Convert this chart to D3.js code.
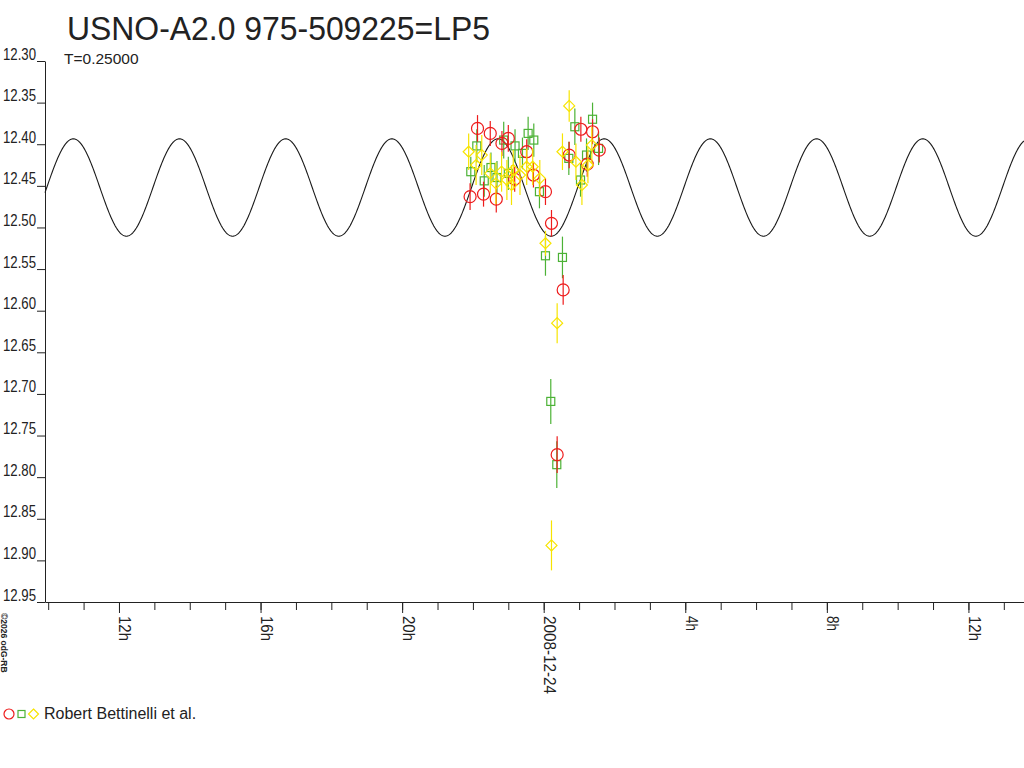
<!DOCTYPE html>
<html>
<head>
<meta charset="utf-8">
<script src="https://cdn.jsdelivr.net/npm/d3@7"></script>
<style>
  body { margin: 0; background: #fff; }
  text { font-family: "Liberation Sans", Arial, sans-serif; fill: #222; }
</style>
</head>
<body>
<svg width="1024" height="768"></svg>
<script>
// observations, time in hours from 2008-12-24 00:00 UT
const redHours = [-2.08, -1.87, -1.70, -1.51, -1.34, -1.18, -1.00, -0.82, -0.48, -0.29, 0.05, 0.22, 0.38, 0.55, 0.72, 1.05, 1.23, 1.38, 1.57];
const redMag   = [12.463, 12.381, 12.460, 12.387, 12.466, 12.399, 12.393, 12.442, 12.409, 12.437, 12.457, 12.495, 12.773, 12.575, 12.413, 12.382, 12.424, 12.385, 12.407];
const redErr   = [0.016, 0.016, 0.015, 0.015, 0.016, 0.015, 0.016, 0.015, 0.015, 0.015, 0.016, 0.016, 0.022, 0.018, 0.016, 0.015, 0.015, 0.015, 0.015];

const greenHours = [-2.06, -1.89, -1.68, -1.49, -1.32, -1.13, -1.00, -0.81, -0.60, -0.44, -0.28, -0.12, 0.05, 0.20, 0.37, 0.53, 0.71, 0.88, 1.04, 1.21, 1.38, 1.55];
const greenMag   = [12.433, 12.402, 12.444, 12.428, 12.440, 12.395, 12.435, 12.402, 12.411, 12.387, 12.395, 12.457, 12.534, 12.709, 12.785, 12.536, 12.417, 12.379, 12.443, 12.413, 12.370, 12.405];
const greenErr   = [0.018, 0.020, 0.019, 0.018, 0.020, 0.022, 0.020, 0.020, 0.019, 0.020, 0.020, 0.020, 0.024, 0.027, 0.028, 0.025, 0.020, 0.022, 0.020, 0.020, 0.020, 0.020];

const yellowHours = [-2.12, -1.91, -1.75, -1.51, -1.35, -1.19, -1.04, -0.91, -0.86, -0.67, -0.48, -0.31, -0.11, 0.05, 0.22, 0.38, 0.53, 0.72, 0.91, 1.08, 1.25, 1.36];
const yellowMag   = [12.409, 12.425, 12.413, 12.435, 12.447, 12.433, 12.443, 12.449, 12.431, 12.437, 12.427, 12.427, 12.441, 12.519, 12.882, 12.615, 12.409, 12.354, 12.421, 12.449, 12.425, 12.401];
const yellowErr   = [0.022, 0.024, 0.024, 0.024, 0.025, 0.024, 0.024, 0.024, 0.024, 0.024, 0.022, 0.022, 0.022, 0.015, 0.030, 0.024, 0.022, 0.019, 0.022, 0.024, 0.022, 0.022];

// model light curve (double wave, T = 0.25 d)
const periodDays = 0.25;
const modelMean = 12.452;
const modelAmp = 0.0585;
const modelFaintHour = 0.21;

const magTicks = [12.30, 12.35, 12.40, 12.45, 12.50, 12.55, 12.60, 12.65, 12.70, 12.75, 12.80, 12.85, 12.90, 12.95];

const svg = d3.select('svg');
const day0 = Date.UTC(2008, 11, 24);
const toDate = h => new Date(day0 + h * 3600e3);

const x = d3.scaleUtc().domain([toDate(-14.09), toDate(13.57)]).range([45, 1024]);
const y = d3.scaleLinear().domain([12.30, 12.95]).range([61, 602]);

// title
svg.append('text').attr('x', 67).attr('y', 40)
    .attr('font-size', 34).attr('textLength', 423).attr('lengthAdjust', 'spacingAndGlyphs')
    .text('USNO-A2.0 975-509225=LP5');
svg.append('text').attr('x', 64).attr('y', 64).attr('font-size', 15.5).text('T=0.25000');

// y axis
const yAxis = svg.append('g').attr('transform', 'translate(45,0)')
    .call(d3.axisLeft(y).tickValues(magTicks).tickSize(8).tickSizeOuter(0).tickFormat(d3.format('.2f')));
yAxis.selectAll('text')
    .attr('x', -9).attr('y', -2).attr('dy', 0)
    .attr('font-size', 17).attr('textLength', 33).attr('lengthAdjust', 'spacingAndGlyphs')
    .style('fill', '#222');
yAxis.selectAll('path, line').attr('stroke', '#222');

// x axis: hourly minor ticks, 4-hourly labelled ticks
const xMinor = svg.append('g').attr('transform', 'translate(0,602)')
    .call(d3.axisBottom(x).ticks(d3.utcHour.every(1)).tickSize(8).tickSizeOuter(0).tickFormat(''));
xMinor.selectAll('path, line').attr('stroke', '#222');

const hourLabel = d => d.getUTCHours() === 0 ? d3.utcFormat('%Y-%m-%d')(d) : d.getUTCHours() + 'h';
const xMajor = svg.append('g').attr('transform', 'translate(0,602)')
    .call(d3.axisBottom(x).ticks(d3.utcHour.every(4)).tickSize(11).tickSizeOuter(0).tickFormat(hourLabel));
xMajor.select('.domain').remove();
xMajor.selectAll('line').attr('stroke', '#222');
xMajor.selectAll('text')
    .attr('transform', 'rotate(90)')
    .attr('x', 14).attr('y', 0).attr('dy', 0)
    .attr('text-anchor', 'start')
    .attr('font-size', 16)
    .attr('textLength', d => d.getUTCHours() === 0 ? 78 : (d.getUTCHours() >= 10 ? 25 : 15))
    .attr('lengthAdjust', 'spacingAndGlyphs')
    .style('fill', '#222');

// model curve
const [h0, h1] = x.domain().map(d => (d - day0) / 3600e3);
const curveHours = d3.range(h0, h1 + 0.01, 0.02);
const modelMag = h => modelMean + modelAmp * Math.cos(2 * Math.PI * 2 * (h - modelFaintHour) / (periodDays * 24));
svg.append('path')
    .datum(curveHours)
    .attr('fill', 'none').attr('stroke', '#1a1a1a').attr('stroke-width', 1.1)
    .attr('d', d3.line().x(h => x(toDate(h))).y(h => y(modelMag(h))));

// observations
const series = [
  { hours: greenHours, mag: greenMag, err: greenErr, color: '#4cb236', shape: 'square' },
  { hours: redHours, mag: redMag, err: redErr, color: '#ee1c1c', shape: 'circle' },
  { hours: yellowHours, mag: yellowMag, err: yellowErr, color: '#f7e400', shape: 'diamond' }
];

const diamond = 'M0,-5.5L5.5,0L0,5.5L-5.5,0Z';
series.forEach(s => {
  const pts = s.hours.map((h, i) => ({ t: toDate(h), m: s.mag[i], e: s.err[i] }));
  const g = svg.append('g');
  g.selectAll('line').data(pts).enter().append('line')
      .attr('x1', d => x(d.t)).attr('x2', d => x(d.t))
      .attr('y1', d => y(d.m - d.e)).attr('y2', d => y(d.m + d.e))
      .attr('stroke', s.color).attr('stroke-width', 1.2);
  const marks = g.selectAll('.mark').data(pts).enter();
  if (s.shape === 'circle') {
    marks.append('circle').attr('class', 'mark')
        .attr('cx', d => x(d.t)).attr('cy', d => y(d.m)).attr('r', 6)
        .attr('fill', 'none').attr('stroke', s.color).attr('stroke-width', 1.2);
  } else if (s.shape === 'square') {
    marks.append('rect').attr('class', 'mark')
        .attr('x', d => x(d.t) - 4).attr('y', d => y(d.m) - 4).attr('width', 8).attr('height', 8)
        .attr('fill', 'none').attr('stroke', s.color).attr('stroke-width', 1.2);
  } else {
    marks.append('path').attr('class', 'mark')
        .attr('d', diamond)
        .attr('transform', d => `translate(${x(d.t)},${y(d.m)})`)
        .attr('fill', 'none').attr('stroke', s.color).attr('stroke-width', 1.2);
  }
});

// legend
svg.append('circle').attr('cx', 9).attr('cy', 714).attr('r', 5)
    .attr('fill', 'none').attr('stroke', '#ee1c1c').attr('stroke-width', 1.2);
svg.append('rect').attr('x', 18).attr('y', 710.5).attr('width', 7).attr('height', 7)
    .attr('fill', 'none').attr('stroke', '#4cb236').attr('stroke-width', 1.2);
svg.append('path').attr('d', 'M0,-5L5,0L0,5L-5,0Z').attr('transform', 'translate(33.5,714)')
    .attr('fill', 'none').attr('stroke', '#f7e400').attr('stroke-width', 1.2);
svg.append('text').attr('x', 44).attr('y', 719).attr('font-size', 16).text('Robert Bettinelli et al.');

// copyright
svg.append('text').attr('transform', 'translate(1,613) rotate(90)')
    .attr('font-size', 8.5).attr('font-weight', 'bold').text('©2026 odG-RB');
</script>
</body>
</html>
